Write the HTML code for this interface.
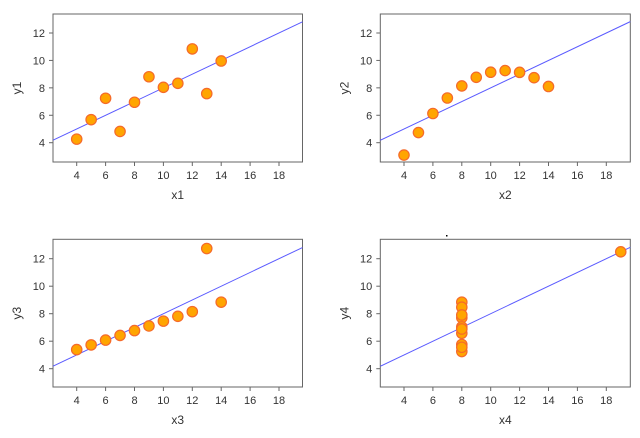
<!DOCTYPE html>
<html><head><meta charset="utf-8"><style>
html,body{margin:0;padding:0;background:#fff;}
svg{display:block;font-family:"Liberation Sans",sans-serif;}
</style></head><body>
<svg id="s" width="640" height="438" xmlns="http://www.w3.org/2000/svg">
<rect x="446" y="235" width="1.5" height="1.5" fill="#000"/>
</svg>
<script>
var X=[10,8,13,9,11,14,6,4,12,7,5];
var D=[
 {L:53,R:302.5,T:14,B:162,x4:76.7,sx:14.45,y12:33,y4:142.7,xs:X,ys:[8.04,6.95,7.58,8.81,8.33,9.96,7.24,4.26,10.84,4.82,5.68],n:"1"},
 {L:380.3,R:630.3,T:14,B:162,x4:404,sx:14.45,y12:33,y4:142.7,xs:X,ys:[9.14,8.14,8.74,8.77,9.26,8.10,6.13,3.10,9.13,7.26,4.74],n:"2"},
 {L:53,R:302.5,T:239.3,B:387,x4:76.7,sx:14.45,y12:258.7,y4:368.7,xs:X,ys:[7.46,6.77,12.74,7.11,7.81,8.84,6.08,5.39,8.15,6.42,5.73],n:"3"},
 {L:380.3,R:630.3,T:239.3,B:387,x4:404,sx:14.45,y12:258.7,y4:368.7,xs:[8,8,8,8,8,8,8,19,8,8,8],ys:[6.58,5.76,7.71,8.84,8.47,7.04,5.25,12.5,5.56,7.91,6.89],n:"4"}
];
var h='';
D.forEach(function(p){
 var sy=(p.y4-p.y12)/8;
 function px(x){return p.x4+(x-4)*p.sx;}
 function py(y){return p.y4-(y-4)*sy;}
 h+='<rect x="'+p.L+'" y="'+p.T+'" width="'+(p.R-p.L)+'" height="'+(p.B-p.T)+'" fill="none" stroke="#666" stroke-width="1"/>';
 for(var t=4;t<=18;t+=2){var x=px(t);h+='<line x1="'+x+'" x2="'+x+'" y1="'+p.B+'" y2="'+(p.B+4)+'" stroke="#666"/><text x="'+x+'" y="'+(p.B+17)+'" font-size="11" fill="#333" text-anchor="middle">'+t+'</text>';}
 for(var t=4;t<=12;t+=2){var y=py(t);h+='<line x1="'+(p.L-4)+'" x2="'+p.L+'" y1="'+y+'" y2="'+y+'" stroke="#666"/><text x="'+(p.L-8)+'" y="'+(y+4)+'" font-size="11" fill="#333" text-anchor="end">'+t+'</text>';}
 h+='<text x="'+((p.L+p.R)/2)+'" y="'+(p.B+37)+'" font-size="12" fill="#333" text-anchor="middle">x'+p.n+'</text>';
 var cy=(p.T+p.B)/2, cx=p.L-32;
 h+='<text x="'+cx+'" y="'+cy+'" font-size="12" fill="#333" text-anchor="middle" transform="rotate(-90 '+cx+' '+cy+')">y'+p.n+'</text>';
 var xa=4+(p.L-p.x4)/p.sx, xb=4+(p.R-p.x4)/p.sx;
 h+='<line x1="'+p.L+'" y1="'+py(3+0.5*xa)+'" x2="'+p.R+'" y2="'+py(3+0.5*xb)+'" stroke="#5a5aff" stroke-width="1"/>';
 for(var i=0;i<11;i++){h+='<circle cx="'+px(p.xs[i])+'" cy="'+py(p.ys[i])+'" r="5.2" fill="#ffa500" stroke="#f56a2a" stroke-width="1.2"/>';}
});
document.getElementById('s').insertAdjacentHTML('beforeend',h);
</script>
</body></html>
